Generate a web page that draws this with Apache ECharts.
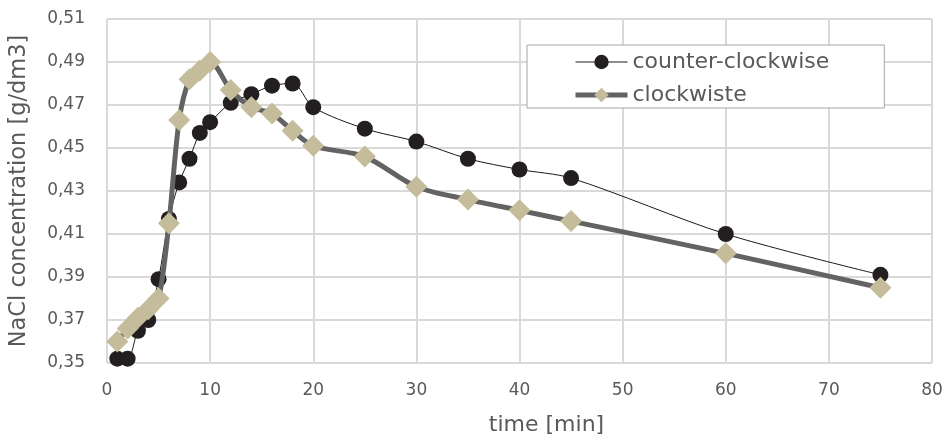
<!DOCTYPE html>
<html>
<head>
<meta charset="utf-8">
<script src="https://cdn.jsdelivr.net/npm/echarts@6/dist/echarts.min.js"></script>
<style>
html,body{margin:0;padding:0;background:#fff;}
#chart{width:950px;height:441px;}
</style>
</head>
<body>
<div id="chart"></div>
<script>
var times = [1, 2, 3, 4, 5, 6, 7, 8, 9, 10, 12, 14, 16, 18, 20, 25, 30, 35, 40, 45, 60, 75];
var counterClockwise = [0.352, 0.352, 0.365, 0.370, 0.389, 0.417, 0.434, 0.445, 0.457, 0.462, 0.471, 0.475, 0.479, 0.480, 0.469, 0.459, 0.453, 0.445, 0.440, 0.436, 0.410, 0.391];
var clockwise = [0.360, 0.366, 0.371, 0.375, 0.380, 0.415, 0.463, 0.482, 0.486, 0.490, 0.477, 0.469, 0.466, 0.458, 0.451, 0.446, 0.432, 0.426, 0.421, 0.416, 0.401, 0.385];
var seriesNames = ['counter-clockwise', 'clockwiste'];
var xTitle = 'time [min]';
var yTitle = 'NaCl concentration [g/dm3]';

function pairs(xs, ys) { return xs.map(function (x, i) { return [x, ys[i]]; }); }

var FONT = 'DejaVu Sans';
var chart = echarts.init(document.getElementById('chart'), null, { renderer: 'canvas' });
chart.setOption({
  animation: false,
  backgroundColor: '#ffffff',
  textStyle: { fontFamily: FONT },
  grid: { left: 106, right: 18, top: 19, bottom: 75, containLabel: false },
  legend: {
    orient: 'vertical',
    left: 527, top: 45,
    padding: [6, 55, 2, 46],
    backgroundColor: '#ffffff',
    borderColor: '#a6a6a6',
    borderWidth: 1,
    itemWidth: 52, itemHeight: 18, itemGap: 11,
    textStyle: { fontFamily: FONT, fontSize: 22, color: '#595959', lineHeight: 22 },
    data: [
      { name: seriesNames[0], lineStyle: { width: 1, color: '#1a1a1a' } },
      { name: seriesNames[1], lineStyle: { width: 5, color: '#636363' } }
    ]
  },
  xAxis: {
    type: 'value', min: 0, max: 80, interval: 10,
    name: xTitle, nameLocation: 'middle', nameGap: 51,
    nameTextStyle: { fontFamily: FONT, fontSize: 22, color: '#595959', padding: [0, 0, 0, 54] },
    axisLine: { show: false }, axisTick: { show: false },
    axisLabel: { fontFamily: FONT, fontSize: 17, color: '#595959', margin: 19 },
    splitLine: { show: true, lineStyle: { color: '#d9d9d9', width: 2 } }
  },
  yAxis: {
    type: 'value', min: 0.35, max: 0.51, interval: 0.02,
    name: yTitle, nameLocation: 'middle', nameGap: 76,
    nameTextStyle: { fontFamily: FONT, fontSize: 22.5, color: '#595959' },
    axisLine: { show: false }, axisTick: { show: false },
    axisLabel: { fontFamily: FONT, fontSize: 17, color: '#595959', margin: 22,
      formatter: function (v) { return v.toFixed(2).replace('.', ','); } },
    splitLine: { show: true, lineStyle: { color: '#d9d9d9', width: 2 } }
  },
  series: [
    {
      name: seriesNames[0], type: 'line', data: pairs(times, counterClockwise),
      smooth: 0.3,
      symbol: 'circle', symbolSize: 16,
      lineStyle: { color: '#1a1a1a', width: 1 },
      itemStyle: { color: '#231f20', borderColor: '#231f20', borderWidth: 0 },
      z: 2
    },
    {
      name: seriesNames[1], type: 'line', data: pairs(times, clockwise),
      smooth: 0.3,
      symbol: 'diamond', symbolSize: 22,
      lineStyle: { color: '#636363', width: 5 },
      itemStyle: { color: '#c4bc9a', borderWidth: 0 },
      z: 3
    }
  ]
});
</script>
</body>
</html>
